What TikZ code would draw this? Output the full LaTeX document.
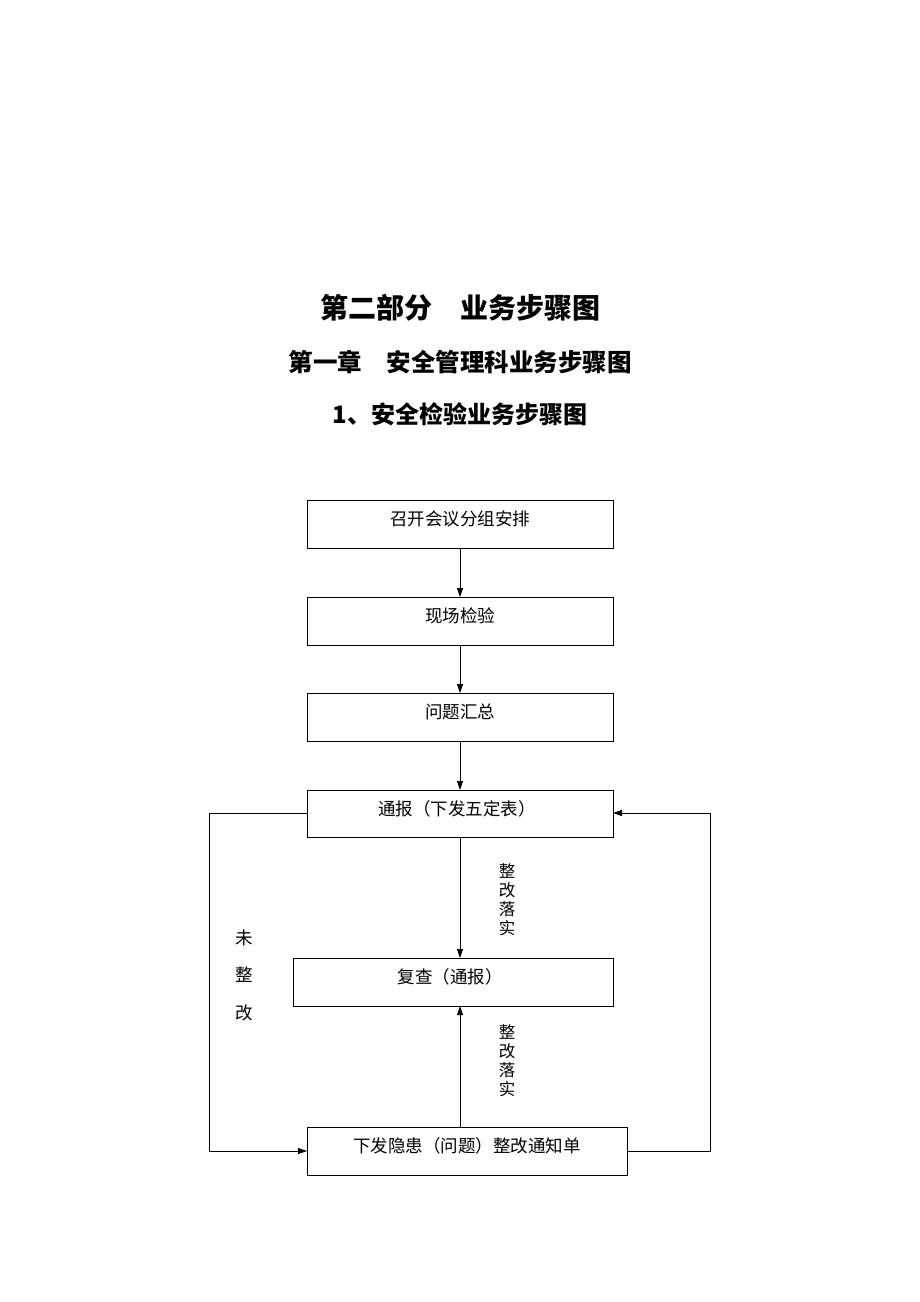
\documentclass[tikz,border=0pt]{standalone}
\usepackage{fontspec}
\setmainfont{Noto Sans CJK SC}
\usetikzlibrary{arrows.meta}
\begin{document}
\begin{tikzpicture}[x=1pt,y=-1pt,
 box/.style={draw,line width=0.8pt,inner sep=0pt,anchor=north west},
 t/.style={font=\fontsize{17.5}{19}\selectfont},
 ar/.style={line width=0.8pt,-{Triangle[length=9pt,width=6pt]}},
 ln/.style={line width=0.8pt}]
\useasboundingbox (0,0) rectangle (920,1302);
\node (h1) at (460,308) {\fontsize{28}{30}\selectfont\bfseries 第二部分\quad 业务步骤图};
\node (h2) at (460,362) {\fontsize{24.5}{28}\selectfont\bfseries 第一章\quad 安全管理科业务步骤图};
\node (h3) at (460,414) {\fontsize{24}{28}\selectfont\bfseries 1、安全检验业务步骤图};
\node[box,minimum width=306pt,minimum height=48pt] (b1) at (307,500) {};
\node[t] at (460,519) {召开会议分组安排};
\node[box,minimum width=306pt,minimum height=48pt] (b2) at (307,597) {};
\node[t] at (460,616) {现场检验};
\node[box,minimum width=306pt,minimum height=48pt] (b3) at (307,693) {};
\node[t] at (460,712) {问题汇总};
\node[box,minimum width=306pt,minimum height=47pt] (b4) at (307,790) {};
\node[t] at (457,809) {通报（下发五定表）};
\node[box,minimum width=320pt,minimum height=48pt] (b5) at (293,958) {};
\node[t] at (450,977) {复查（通报）};
\node[box,minimum width=320pt,minimum height=48pt] (b6) at (307,1127) {};
\node[t] at (467,1146) {下发隐患（问题）整改通知单};
\draw[ar] (460,548) -- (460,597);
\draw[ar] (460,645) -- (460,693);
\draw[ar] (460,741) -- (460,790);
\draw[ar] (460,837) -- (460,958);
\draw[ar] (460,1127) -- (460,1006);
\coordinate (l1) at (209,813); \coordinate (l2) at (209,1151);
\draw[ar] (307,813) -- (l1) -- (l2) -- (307,1151);
\coordinate (r1) at (710,1151); \coordinate (r2) at (710,813);
\draw[ar] (627,1151) -- (r1) -- (r2) -- (613,813);
\node[align=center,inner sep=0pt,font=\fontsize{16.5}{19}\selectfont] (c1) at (507,900) {整\\改\\落\\实};
\node[align=center,inner sep=0pt,font=\fontsize{16.5}{19}\selectfont] (c2) at (507,1061) {整\\改\\落\\实};
\node[t] (w1) at (244,938) {未};
\node[t] (w2) at (244,975) {整};
\node[t] (w3) at (244,1013) {改};
\end{tikzpicture}
\end{document}
